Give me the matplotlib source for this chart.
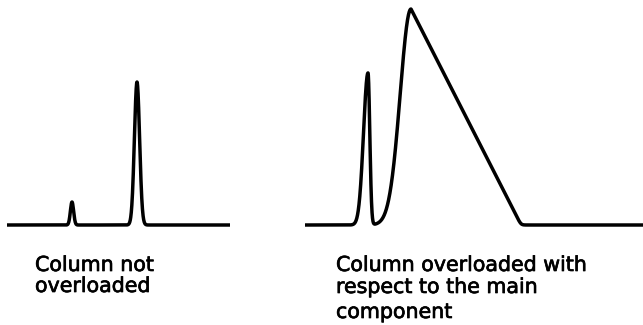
import numpy as np
import matplotlib.pyplot as plt
import matplotlib.patheffects as pe

# left chromatogram: column not overloaded (positions / heights)
left_x = [7, 230]
left_centers = [72, 137]
left_heights = [23, 143]
left_sigmas = [1.6, 2.6]

# right chromatogram: column overloaded with respect to the main component
right_x = [305, 643]
minor_center, minor_height, minor_sigma_l, minor_sigma_r = 368, 152, 4.5, 1.8
main_apex, main_height, main_front_sigma, main_tail_end = 411, 216, 10.8, 521

baseline = 225

left_label = ["Column not", "overloaded"]
left_label_y = [271, 292]
right_label = ["Column overloaded with", "respect to the main", "component"]
right_label_y = [271, 293, 318]


def gauss(x, c, h, sl, sr):
    s = np.where(x < c, sl, sr)
    return h * np.exp(-0.5 * ((x - c) / s) ** 2)


def overloaded(x, apex, h, front, end):
    up = h * np.exp(-0.5 * ((x - apex) / front) ** 2)
    down = h * (end - x) / (end - apex)
    # soft clip at zero so the foot of the tail is rounded
    k = 2.0
    down = k * np.log1p(np.exp(down / k))
    return np.where(x < apex, up, down)


fig = plt.figure(figsize=(6.43, 3.25), dpi=100)
ax = fig.add_axes([0, 0, 1, 1])

xl = np.linspace(left_x[0], left_x[1], 2000)
yl = np.zeros_like(xl)
for c, h, s in zip(left_centers, left_heights, left_sigmas):
    yl += gauss(xl, c, h, s, s)
ax.plot(xl, baseline - yl, color='black', lw=2.5, solid_capstyle='butt')

xr = np.linspace(right_x[0], right_x[1], 3000)
yr = gauss(xr, minor_center, minor_height, minor_sigma_l, minor_sigma_r)
yr += overloaded(xr, main_apex, main_height, main_front_sigma, main_tail_end)
ax.plot(xr, baseline - yr, color='black', lw=2.5, solid_capstyle='butt')

thick = [pe.withStroke(linewidth=0.5, foreground='black')]
for line, y in zip(left_label, left_label_y):
    ax.text(35, y, line, fontsize=14.8, va='baseline', ha='left',
            fontfamily='DejaVu Sans', path_effects=thick)
for line, y in zip(right_label, right_label_y):
    ax.text(336, y, line, fontsize=14.8, va='baseline', ha='left',
            fontfamily='DejaVu Sans', path_effects=thick)

ax.set_xlim(0, 643)
ax.set_ylim(325, 0)
ax.axis('off')
fig.savefig('out.png', dpi=100)
